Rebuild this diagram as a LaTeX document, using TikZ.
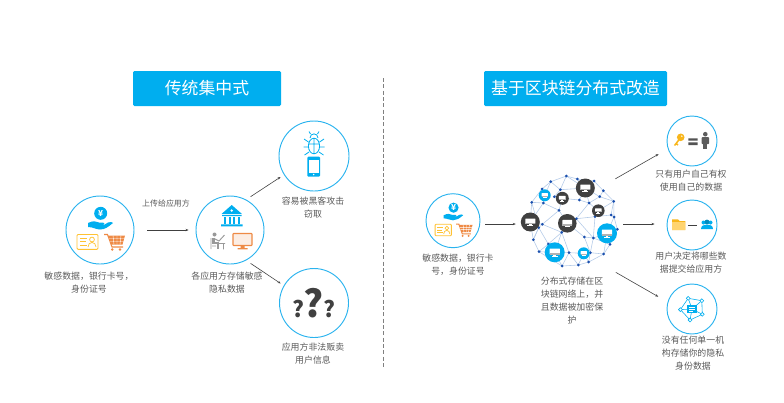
\documentclass[tikz,border=0pt]{standalone}
\usepackage{xcolor}
\usepackage{fontspec}
\setmainfont{Noto Sans CJK SC}
\usetikzlibrary{arrows.meta}
\definecolor{skyblue}{HTML}{00AEEF}
\definecolor{ringblue}{HTML}{2AB3EE}
\definecolor{dotblue}{HTML}{1A4FAE}
\definecolor{meshblue}{HTML}{B4CBE8}
\definecolor{carddark}{HTML}{404040}
\definecolor{textgray}{HTML}{5A5A5A}
\definecolor{cartorange}{HTML}{EE8A45}
\definecolor{cardyellow}{HTML}{FFC233}
\definecolor{keyyellow}{HTML}{F8B61C}
\tikzset{
  ring/.style={circle,draw=ringblue,line width=.8pt,minimum size=#1,inner sep=0pt},
  caption/.style={text=textgray,align=center,inner sep=0pt,font=\fontsize{7.6}{11.1}\selectfont},
  titlebox/.style={fill=skyblue,text=white,rounded corners=.4mm,inner sep=0pt,minimum height=10.5mm,font=\fontsize{14.4}{16}\selectfont},
  flow/.style={draw=carddark,line width=.5pt,-{Stealth[length=.9mm,width=.7mm]}},
  netdot/.style={circle,fill=dotblue,inner sep=0pt,minimum size=.9mm},
  pcnode/.style={circle,inner sep=0pt},
  paygroup/.pic={
    \fill[skyblue](.7,-16.7)circle(6.5);
    \node[white,inner sep=0pt,font=\fontsize{7}{7}\selectfont\bfseries]at(.7,-16.7){¥};
    \fill[skyblue](-12,-7).. controls(-7,-9.5)and(-4,-9)..(-1,-7.5)--(3,-7.5).. controls(5,-7.5)and(5,-5)..(3,-5)--(1,-5)--(3,-4.5)--(8,-7.5).. controls(10,-8.5)and(13,-8)..(13,-7).. controls(8,-3)and(5,-.5)..(0,-.5).. controls(-4,-.5)and(-7,-3)..(-12,-3)--cycle;
    \draw[cardyellow,line width=.8pt,rounded corners=.3mm](-23,4.5)rectangle(-2,19.3);
    \draw[cardyellow,line width=.6pt](-20,8.5)--(-13,8.5)(-20,11.8)--(-14,11.8)(-20,15)--(-13,15);
    \draw[cardyellow,line width=.6pt](-8,9.5)circle(2.4)(-12,17).. controls(-12,11)and(-4,11)..(-4,17);
    \draw[cartorange,line width=.9pt](4,4.5)--(7.5,4.5)--(12,17)--(23,17);
    \fill[cartorange](8,5.5)--(25,5.5)--(22.5,14.5)--(11,14.5)--cycle;
    \draw[white,line width=.35pt](8.5,8.5)--(24.5,8.5)(9.5,11.5)--(23.5,11.5)(13,5.5)--(14,14.5)(17,5.5)--(17,14.5)(21,5.5)--(20,14.5);
    \fill[cartorange](12.3,19.5)circle(1.4)(20,19.5)circle(1.4);
  },
  netpc/.pic={
    \fill[white,rounded corners=.1mm](-.52,-.36)rectangle(.52,.18);
    \fill[gray!60](-.52,.08)rectangle(.52,.24);
    \fill[white](-.14,.24)rectangle(.14,.36);
    \fill[white](-.3,.34)rectangle(.3,.43);
  }
}
\begin{document}
\begin{tikzpicture}[x=.3mm,y=-.3mm]
\useasboundingbox(0,0)rectangle(784,402);

\node[titlebox,minimum width=44.4mm](titleold)at(207,88.5){传统集中式};
\node[titlebox,minimum width=54.9mm](titlenew)at(575.5,88.5){基于区块链分布式改造};
\coordinate(dashtop)at(383.5,78);
\coordinate(dashend)at(383.5,368);
\draw[gray,line width=.5pt,dash pattern=on 1.2mm off .7mm](dashtop)--(dashend);

\node[ring=20.4mm](pay)at(100,230){};
\node[ring=20.4mm](store)at(230,230){};
\node[ring=21mm](hack)at(314,156){};
\node[ring=20.7mm](sell)at(314,303){};
\node[ring=16.2mm](paynew)at(453,220.7){};
\node[minimum size=30.6mm,circle,inner sep=0pt](net)at(572,224){};
\node[ring=15mm](owner)at(692,141){};
\node[ring=15mm](share)at(692,225){};
\node[ring=15mm](nobody)at(692,309){};

\draw[flow,shorten <=3.9mm,shorten >=2.1mm](pay.east)--(store.west);
\draw[flow,shorten <=1.6mm,shorten >=1.2mm](store.62.7)--(hack.212.4);
\draw[flow,shorten <=1.6mm,shorten >=1.1mm](store.-62.7)--(sell.150);
\draw[flow,shorten <=1.4mm,shorten >=1.5mm](paynew.east|-net.180)--(net.180);
\draw[flow,shorten <=3.6mm,shorten >=3.2mm](net.50)--(owner.198.7);
\draw[flow,shorten >=3.6mm](net.0)--(net.0-|share.west);
\draw[flow,shorten <=4.5mm,shorten >=3.2mm](net.-53)--(nobody.164.2);

\node[caption,font=\fontsize{6.8}{8}\selectfont](uplabel)at(166,203){上传给应用方};
\node[caption](paytext)at(89,282.5){敏感数据，银行卡号，\\身份证号};
\node[caption](storetext)at(227,282.5){各应用方存储敏感\\隐私数据};
\node[caption](hacktext)at(313,207.5){容易被黑客攻击\\窃取};
\node[caption](selltext)at(313,353.5){应用方非法贩卖\\用户信息};
\node[caption](paynewtext)at(458,264.5){敏感数据，银行卡\\号，身份证号};
\node[caption](nettext)at(572,300.5){分布式存储在区\\块链网络上，并\\且数据被加密保\\护};
\node[caption](ownertext)at(691,180.5){只有用户自己有权\\使用自己的数据};
\node[caption](sharetext)at(691,262.5){用户决定将哪些数\\据提交给应用方};
\node[caption](nobodytext)at(693,353){没有任何单一机\\构存储你的隐私\\身份数据};

\pic at(pay){paygroup};
\pic[scale=.78]at(paynew){paygroup};

\fill[skyblue](231.7,205)--(242,214)--(221.5,214)--cycle;
\fill[white](231.7,210.5)circle(1.3);
\fill[skyblue](222,215)rectangle(241.5,216.2)(221,224.3)rectangle(242.5,226.3);
\foreach\x in{224,228.5,233,237.5}\fill[skyblue](\x,217)rectangle(\x+2,223.5);

\fill[gray!80](214.5,234.5)circle(2);
\draw[gray!80,line width=1.9pt](213.5,237.5)--(213.5,243)--(218,243)--(218,249);
\draw[gray!80,line width=.8pt](214,238.5)--(219,241)--(224.5,235)(211,238)--(211,249)(212,246)--(216,246)(219,243.5)--(225,243.5)(223.5,243.5)--(223.5,249.3);
\draw[cartorange,line width=.9pt,fill=cartorange!15,rounded corners=.2mm](233,233.5)rectangle(252,245.5);
\fill[cartorange](240.5,245.5)rectangle(244.5,248)(237.5,248)rectangle(247.5,249.3);

\draw[skyblue,line width=.7pt](314,146)ellipse(5.6 and 7.8)(314,138)--(314,154)(308.5,144)--(319.5,144);
\draw[skyblue,line width=.7pt](310,138).. controls(310,132.5)and(318,132.5)..(318,138);
\draw[skyblue,line width=.7pt](308.5,142)--(304,139)(319.5,142)--(324,139)(308,147)--(303.5,147)(320,147)--(324.5,147)(309,152)--(304.5,155)(319,152)--(323.5,155)(310.5,134)--(309,131.5)(317.5,134)--(319,131.5);
\fill[skyblue,rounded corners=.3mm](307.3,156.7)rectangle(320,176.7);
\fill[white](308.8,159.5)rectangle(318.5,172.5);
\fill[white](313.7,174.5)circle(.8);

\node[inner sep=0pt,text=carddark,font=\fontsize{32}{32}\selectfont\bfseries](askbig)at(313.7,302.7){?};
\node[inner sep=0pt,text=carddark,font=\fontsize{19}{19}\selectfont\bfseries](askleft)at(298,309.3){?};
\node[inner sep=0pt,text=carddark,font=\fontsize{19}{19}\selectfont\bfseries](askright)at(329.3,309.3){?};

\foreach\x/\y[count=\i]in{566.3/176,577.3/179,594/181,550.7/181.7,542/189,603.3/190.7,560.3/189.7,531.7/202.3,554.3/196.7,543.3/203,579.3/200,589/203,599.7/196.7,613.7/201.3,559/210.3,611/215,614/217,595/216.7,576.3/218.7,617.3/229.3,542.3/224.3,538.7/227.7,561.7/232.3,584.3/237,593.3/238,533.3/239.7,610/244.3,548.3/244,539/251.7,569/252.7,590.3/252.7,603.7/254,588.7/262,578.3/265,562/266}
  \coordinate(p\i)at(\x,\y);
\foreach\x/\y[count=\i]in{585.3/188,530.3/222,567.3/223.3,562.3/198.3,598.3/210.7,607/233.3,554.7/252.3,583.7/253.3,544.7/195.3}
  \coordinate(pc\i)at(\x,\y);
\foreach\a/\b in{p4/p1,p1/p2,p2/p3,p3/p6,p6/p14,p14/p17,p17/p20,p20/p27,p27/p32,p32/p33,p33/p34,p34/p35,p35/p29,p29/p26,p26/p22,p22/p8,p8/p5,p5/p4,p4/p7,p4/pc9,p1/p7,p1/pc1,p2/pc1,p3/pc1,p7/pc1,p7/p9,p9/pc4,pc4/p15,p15/p10,p10/pc9,p5/pc9,p8/p10,p8/pc2,p10/pc2,p15/pc3,pc4/p11,p11/pc1,p11/p12,p12/pc1,p12/p13,p13/p6,p13/pc1,p13/p14,p12/pc5,pc5/p14,pc5/p18,p18/p16,p16/p17,p16/p14,p18/p19,p12/p19,p19/pc3,p19/p25,p25/p18,p25/pc6,pc6/p20,pc6/p27,pc6/p17,p25/p24,p24/pc3,p24/p31,p25/p31,p31/p33,p31/pc8,pc8/p30,pc8/p34,pc8/p33,p30/pc7,p30/p34,p30/p23,p23/pc3,p23/pc7,p23/p28,p21/pc2,p21/p22,p22/p26,p22/p28,p28/pc7,p28/p29,p29/pc7,pc7/p35,p35/p30,pc2/p26,p21/p15,p21/p23,p32/p31,p32/pc6,p27/p25}
  \draw[meshblue,line width=.5pt](\a)--(\b);
\foreach\i in{1,...,35}\node[netdot](d\i)at(p\i){};
\foreach\i/\r/\c in{1/9.5/carddark,2/9.5/carddark,3/9.3/carddark,4/6.5/carddark,5/6.3/carddark,6/10/skyblue,7/10/skyblue,8/6/skyblue,9/6/skyblue}{
  \node[pcnode,fill=\c,minimum size=\r*.6mm](node\i)at(pc\i){};
  \pic[scale=\r]at(pc\i){netpc};
}

\fill[keyyellow](680.7,137.3)circle(3.8);
\draw[keyyellow,line width=1.3pt](680,138.5)--(674.5,145.5)(676,143.5)--(678,145);
\fill[white](681.8,136.2)circle(.8);
\fill[carddark!90](688.3,138.3)rectangle(697.7,140.7)(688.3,142.3)rectangle(697.7,145);
\fill[carddark!85](705.3,134.2)circle(2.3);
\fill[carddark!85,rounded corners=.2mm](701.7,137.2)rectangle(709,144);
\fill[carddark!85](703.2,143)rectangle(707.4,149);

\fill[keyyellow](672,219.3)--(678,219.3)--(679.5,221)--(685.3,221)--(685.3,230)--(672,230)--cycle;
\fill[cardyellow!70](672,222)rectangle(685.3,230);
\draw[carddark,line width=.7pt](688.3,225)--(697.3,225);
\fill[skyblue](703.5,222.5)circle(2)(710.5,222.5)circle(2);
\fill[skyblue!80!black](707,222)circle(2.4);
\fill[skyblue](701,229).. controls(701,225.5)and(704,224.5)..(707,224.5).. controls(710,224.5)and(713,225.5)..(713,229)--cycle;

\foreach\x/\y[count=\i]in{688.2/298.3,701.8/300.7,702.3/314.3,690/320,680.4/309.6}\coordinate(h\i)at(\x,\y);
\draw[skyblue,line width=.5pt](h1)--(h2)--(h3)--(h4)--(h5)--cycle(h1)--(692,309)(h2)--(692,309)(h3)--(692,309)(h4)--(692,309)(h5)--(692,309);
\foreach\i in{1,...,5}\draw[skyblue,line width=.5pt,fill=white](h\i)circle(1.9);
\fill[skyblue](687.3,305)rectangle(696.7,312.7);
\draw[white,line width=.4pt](688.8,307)--(695,307)(688.8,309)--(695,309)(688.8,311)--(693,311);
\end{tikzpicture}
\end{document}
